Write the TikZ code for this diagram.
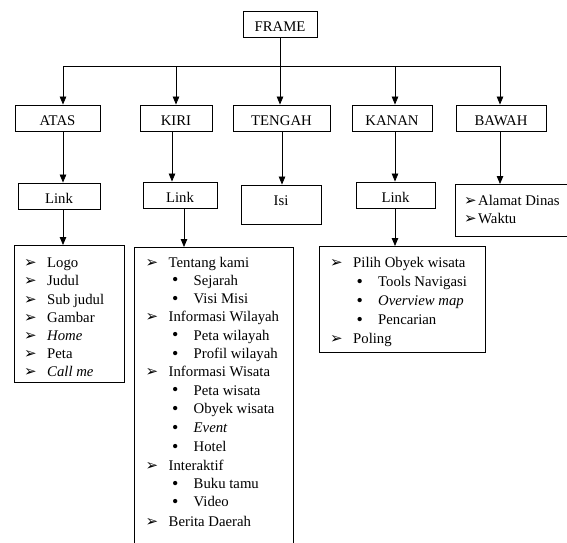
\documentclass[tikz,border=0pt]{standalone}
\usepackage{fontspec}
\setmainfont{Liberation Serif}
\newfontfamily\dingfont{DejaVu Sans}
\usetikzlibrary{arrows.meta}

\tikzset{
  txt/.style={font=\fontsize{14.75}{18}\selectfont},
  box/.style={txt, draw, line width=0.9pt, rectangle, inner sep=0pt,
              text height=15pt, text depth=0pt},
  listbox/.style={rectangle, inner sep=0pt, line width=0.9pt},
  link/.style={line width=0.8pt},
  arr/.style={link, -{Triangle[length=8pt,width=6.5pt]}},
  itm/.style={txt, anchor=base west, inner sep=0pt},
  abul/.style={anchor=base west, inner sep=0pt, font=\dingfont\fontsize{15}{16}\selectfont},
  dbul/.style={anchor=base west, inner sep=0pt, font=\fontsize{18}{18}\selectfont},
}

% first-level list entry: name, left x, baseline y, text
\newcommand\ItemA[4]{%
  \node[abul] (#1-b) at (#2-1,#3) {➢};
  \node[itm] (#1) at (#2+22,#3) {#4};}
% second-level list entry
\newcommand\ItemB[4]{%
  \node[dbul] (#1-b) at (#2+25.5,#3+0.8) {\textbullet};
  \node[itm] (#1) at (#2+47,#3) {#4};}

\begin{document}
\begin{tikzpicture}[x=1pt,y=-1pt]
\useasboundingbox (0,0) rectangle (567,542);

% root and first level
\node[box, minimum width=74pt, minimum height=26pt] (frame) at (280,24) {FRAME};
\node[box, minimum width=85pt, minimum height=26pt] (atas) at (57.5,118) {ATAS};
\node[box, minimum width=72pt, minimum height=26pt] (kiri) at (176,118) {KIRI};
\node[box, minimum width=97pt, minimum height=26pt] (tengah) at (281.5,118) {TENGAH};
\node[box, minimum width=80pt, minimum height=26pt] (kanan) at (392,118) {KANAN};
\node[box, minimum width=90pt, minimum height=26pt] (bawah) at (501,118) {BAWAH};

% second level
\node[box, minimum width=82pt, minimum height=26pt] (atasLink) at (59,196) {Link};
\node[box, minimum width=74pt, minimum height=26pt] (kiriLink) at (180,195) {Link};
\node[box, minimum width=80pt, minimum height=39pt, text height=10pt, text depth=9pt] (isi) at (281,204.5) {Isi};
\node[box, minimum width=79pt, minimum height=26pt] (kananLink) at (395.5,195) {Link};

% list frames
\node[listbox, draw, minimum width=110pt, minimum height=137pt, anchor=north west] (atasList) at (14,245) {};
\node[listbox, minimum width=159pt, minimum height=295pt, anchor=north west] (kiriList) at (134,247) {};
\node[listbox, draw, minimum width=166pt, minimum height=106pt, anchor=north west] (kananList) at (319,246) {};
\node[listbox, minimum width=112pt, minimum height=52pt, anchor=north west] (bawahList) at (455,184) {};
\draw[line width=0.9pt] (kiriList.south west) -- (kiriList.north west) -- (kiriList.north east) -- (kiriList.south east);
\draw[line width=0.9pt] (bawahList.north east) -- (bawahList.north west) -- (bawahList.south west) -- (bawahList.south east);

% connector positions
\coordinate (busL) at (63,66);
\coordinate (busR) at (500,66);
\coordinate (xA) at (63,0);
\coordinate (xK2) at (172,0);
\coordinate (xK3) at (184,0);
\coordinate (xT) at (282,0);
\coordinate (xN) at (395,0);

% tree connectors
\draw[link] (frame.south) -- (frame.south |- busL);
\draw[link] (busL) -- (busR);
\draw[arr] (busL) -- (atas.north -| busL);
\draw[arr] (kiri.north |- busL) -- (kiri.north);
\draw[arr] (frame.south |- busL) -- (tengah.north -| frame.south);
\draw[arr] (xN |- busL) -- (kanan.north -| xN);
\draw[arr] (busR) -- (bawah.north -| busR);

\draw[arr] (atas.south -| xA) -- (atasLink.north -| xA);
\draw[arr] (kiri.south -| xK2) -- (kiriLink.north -| xK2);
\draw[arr] (tengah.south -| xT) -- (isi.north -| xT);
\draw[arr] (kanan.south -| xN) -- (kananLink.north -| xN);
\draw[arr] (bawah.south -| busR) -- (bawahList.north -| busR);

\draw[arr] (atasLink.south -| xA) -- (atasList.north -| xA);
\draw[arr] (kiriLink.south -| xK3) -- (kiriList.north -| xK3);
\draw[arr] (kananLink.south -| xN) -- (kananList.north -| xN);

% ATAS list
\ItemA{a1}{25}{267.7}{Logo}
\ItemA{a2}{25}{285.9}{Judul}
\ItemA{a3}{25}{304.0}{Sub judul}
\ItemA{a4}{25}{322.2}{Gambar}
\ItemA{a5}{25}{340.4}{\textit{Home}}
\ItemA{a6}{25}{358.5}{Peta}
\ItemA{a7}{25}{376.7}{\textit{Call me}}

% KIRI list
\ItemA{k1}{146.5}{267.7}{Tentang kami}
\ItemB{k2}{146.5}{285.0}{Sejarah}
\ItemB{k3}{146.5}{303.3}{Visi Misi}
\ItemA{k4}{146.5}{321.7}{Informasi Wilayah}
\ItemB{k5}{146.5}{340.0}{Peta wilayah}
\ItemB{k6}{146.5}{358.3}{Profil wilayah}
\ItemA{k7}{146.5}{376.7}{Informasi Wisata}
\ItemB{k8}{146.5}{395.0}{Peta wisata}
\ItemB{k9}{146.5}{413.3}{Obyek wisata}
\ItemB{k10}{146.5}{432.2}{\textit{Event}}
\ItemB{k11}{146.5}{451.2}{Hotel}
\ItemA{k12}{146.5}{470.0}{Interaktif}
\ItemB{k13}{146.5}{488.3}{Buku tamu}
\ItemB{k14}{146.5}{506.7}{Video}
\ItemA{k15}{146.5}{526.0}{Berita Daerah}

% KANAN list
\ItemA{n1}{331}{267.7}{Pilih Obyek wisata}
\ItemB{n2}{331}{286.7}{Tools Navigasi}
\ItemB{n3}{331}{305.8}{\textit{Overview map}}
\ItemB{n4}{331}{324.8}{Pencarian}
\ItemA{n5}{331}{343.8}{Poling}

% BAWAH list
\node[abul] (b1-b) at (464,205) {➢};
\node[itm] (b1) at (478,205) {Alamat Dinas};
\node[abul] (b2-b) at (464,223) {➢};
\node[itm] (b2) at (478,223) {Waktu};
\end{tikzpicture}
\end{document}
